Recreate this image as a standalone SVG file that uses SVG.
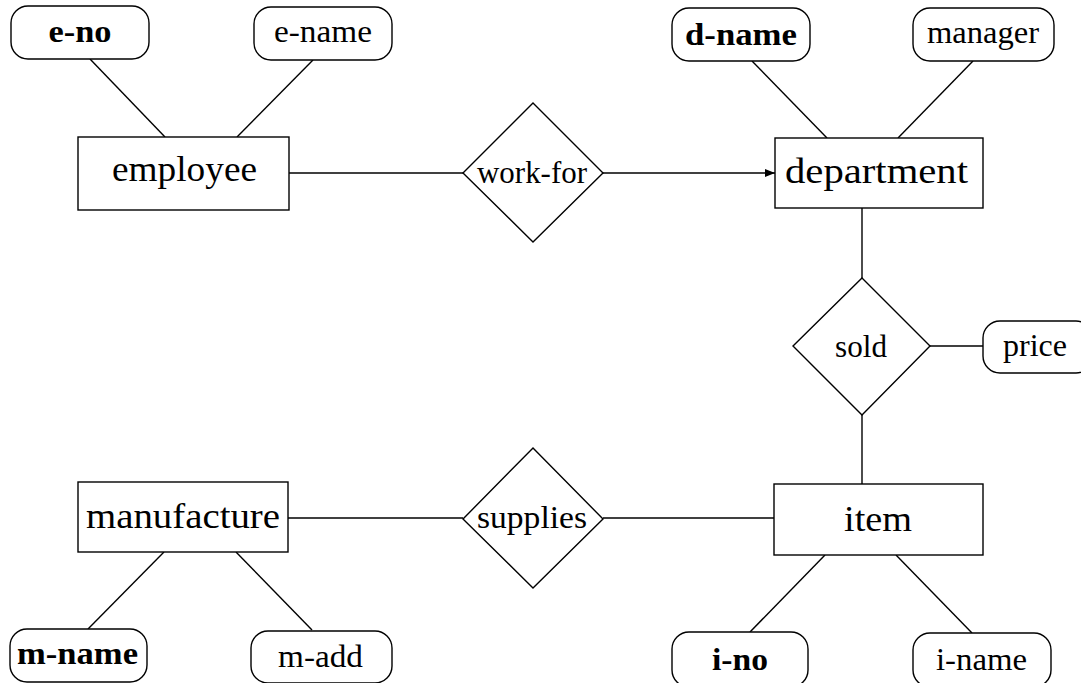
<svg xmlns="http://www.w3.org/2000/svg" width="1081" height="683" viewBox="0 0 1081 683">
<defs>
<style>
.s{fill:#fff;stroke:#000;stroke-width:1.4}
.c{stroke:#000;stroke-width:1.4;fill:none}
text{font-family:"Liberation Serif","Times New Roman",serif;fill:#000;text-anchor:middle}
.a{font-size:31px}
.k{font-size:31px;font-weight:bold}
.e{font-size:35px}
</style>
<marker id="arr" viewBox="0 0 10 8" refX="10" refY="4" markerWidth="10" markerHeight="8" markerUnits="userSpaceOnUse" orient="auto">
<path d="M0,0 L10,4 L0,8 Z" fill="#000"/>
</marker>
</defs>
<rect width="1081" height="683" fill="#fff"/>
<g id="connectors">
<line class="c" x1="90" y1="59" x2="165" y2="137"/>
<line class="c" x1="313" y1="60" x2="237" y2="137"/>
<line class="c" x1="752" y1="61" x2="827" y2="138"/>
<line class="c" x1="973" y1="61" x2="898" y2="138"/>
<line class="c" x1="289" y1="173" x2="463" y2="173"/>
<line class="c" x1="603" y1="173" x2="775" y2="173" marker-end="url(#arr)"/>
<line class="c" x1="862" y1="208" x2="862" y2="278"/>
<line class="c" x1="930" y1="346" x2="983" y2="346"/>
<line class="c" x1="862" y1="415" x2="862" y2="484"/>
<line class="c" x1="288" y1="518" x2="463" y2="518"/>
<line class="c" x1="603" y1="518" x2="774" y2="518"/>
<line class="c" x1="164" y1="552" x2="88" y2="629"/>
<line class="c" x1="236" y1="552" x2="312" y2="630"/>
<line class="c" x1="825" y1="555" x2="750" y2="632"/>
<line class="c" x1="896" y1="555" x2="972" y2="633"/>
</g>
<g id="e-no"><rect class="s" x="11" y="6" width="138" height="53" rx="17"/><text class="k" x="80" y="42" textLength="63" lengthAdjust="spacingAndGlyphs">e-no</text></g>
<g id="e-name"><rect class="s" x="254" y="7" width="138" height="53" rx="17"/><text class="a" x="323" y="42" textLength="98" lengthAdjust="spacingAndGlyphs">e-name</text></g>
<g id="employee"><rect class="s" x="78" y="137" width="211" height="73"/><text class="e" x="184.5" y="181" textLength="145" lengthAdjust="spacingAndGlyphs">employee</text></g>
<g id="d-name"><rect class="s" x="672" y="8" width="138" height="53" rx="17"/><text class="k" x="741" y="45" textLength="112" lengthAdjust="spacingAndGlyphs">d-name</text></g>
<g id="manager"><rect class="s" x="913" y="8" width="141" height="53" rx="17"/><text class="a" x="983" y="43" textLength="112" lengthAdjust="spacingAndGlyphs">manager</text></g>
<g id="department"><rect class="s" x="775" y="138" width="208" height="70"/><text class="e" x="876.5" y="183" textLength="183" lengthAdjust="spacingAndGlyphs">department</text></g>
<g id="work-for"><polygon class="s" points="533,103 603,173 533,242 463,173"/><text class="a" x="532" y="183" textLength="110" lengthAdjust="spacingAndGlyphs">work-for</text></g>
<g id="sold"><polygon class="s" points="862,278 930,346 862,415 793,346"/><text class="a" x="861" y="357" textLength="52" lengthAdjust="spacingAndGlyphs">sold</text></g>
<g id="price"><rect class="s" x="983" y="321" width="110" height="52" rx="17"/><text class="a" x="1035" y="356" textLength="64" lengthAdjust="spacingAndGlyphs">price</text></g>
<g id="item"><rect class="s" x="774" y="484" width="209" height="71"/><text class="e" x="878" y="531" textLength="68" lengthAdjust="spacingAndGlyphs">item</text></g>
<g id="supplies"><polygon class="s" points="533,448 603,519 533,588 463,519"/><text class="a" x="532" y="528" textLength="110" lengthAdjust="spacingAndGlyphs">supplies</text></g>
<g id="manufacture"><rect class="s" x="78" y="482" width="210" height="70"/><text class="e" x="183" y="528" textLength="194" lengthAdjust="spacingAndGlyphs">manufacture</text></g>
<g id="m-name"><rect class="s" x="10" y="629" width="137" height="53" rx="17"/><text class="k" x="77.5" y="664" textLength="121" lengthAdjust="spacingAndGlyphs">m-name</text></g>
<g id="m-add"><rect class="s" x="251" y="631" width="141" height="52" rx="17"/><text class="a" x="320.5" y="667" textLength="85" lengthAdjust="spacingAndGlyphs">m-add</text></g>
<g id="i-no"><rect class="s" x="672" y="632" width="136" height="55" rx="17"/><text class="k" x="740" y="670" textLength="56" lengthAdjust="spacingAndGlyphs">i-no</text></g>
<g id="i-name"><rect class="s" x="913" y="633" width="138" height="54" rx="17"/><text class="a" x="981.5" y="670" textLength="91" lengthAdjust="spacingAndGlyphs">i-name</text></g>
</svg>
